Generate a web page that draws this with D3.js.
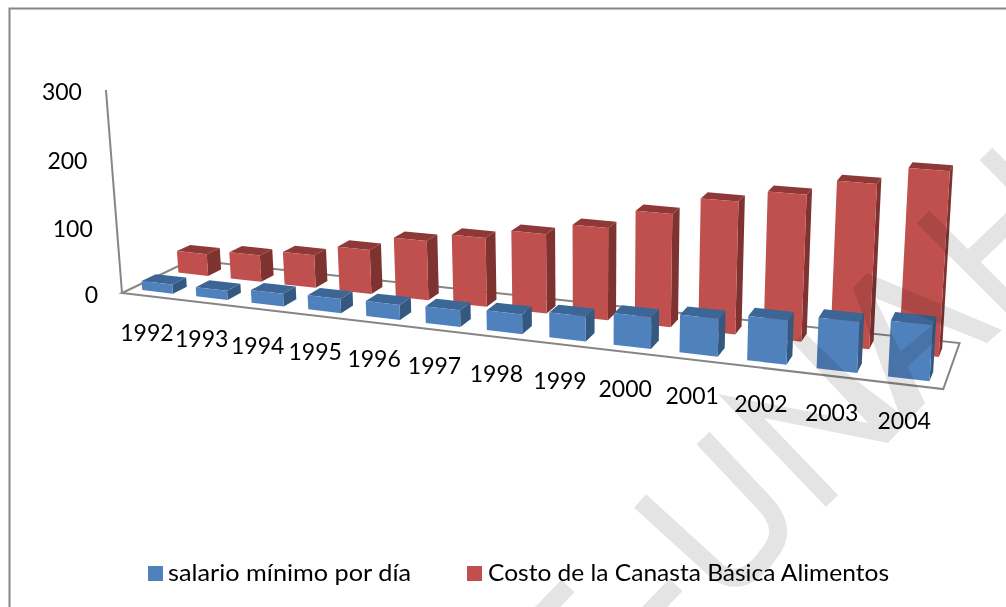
<!DOCTYPE html>
<html>
<head>
<meta charset="utf-8">
<script src="https://cdn.jsdelivr.net/npm/d3@7/dist/d3.min.js"></script>
<style>
html,body{margin:0;padding:0;background:#fff;overflow:hidden}
svg{display:block}
text{font-family:Lato,"Open Sans",sans-serif;fill:#000}
</style>
</head>
<body>
<svg id="c" width="1006" height="607"></svg>
<script>
const years = ["1992","1993","1994","1995","1996","1997","1998","1999","2000","2001","2002","2003","2004"];
const salario = [14,14,19,21,22,24,28,35,44,52,60,68,74];
const canasta = [34,41,50,67,89,102,116,133,161,186,203,225,249];
const yTicks = [0,100,200,300];
const seriesNames = ["salario mínimo por día","Costo de la Canasta Básica Alimentos"];

const svg = d3.select("#c");

// scales into the unit box of the 3D plot
const xBand = d3.scaleBand().domain(years).range([0,1]).paddingInner(0.43).paddingOuter(0.215);
const depth = d3.scaleBand().domain(seriesNames).range([0,1]).paddingInner(0.615).paddingOuter(0.269).align(0.43);
const zScale = d3.scaleLinear().domain([0,300]).range([0,1]);

// perspective camera: origin and the three vanishing points with their weights
const O = [122,293];
const VP = {x:[-4400,-236,-0.1537], y:[1152,-199.6,0.0718], z:[591,6230,-0.03306]};
function proj(x,y,z){
  const w = 1 + VP.x[2]*x + VP.y[2]*y + VP.z[2]*z;
  const a = i => O[i] + VP.x[2]*VP.x[i]*x + VP.y[2]*VP.y[i]*y + VP.z[2]*VP.z[i]*z;
  return [a(0)/w, a(1)/w];
}
const line = d3.line();
const poly = pts => line(pts) + "Z";

// chart frame
svg.append("path").attr("d","M1010,8.5H9.5V611").attr("fill","none").attr("stroke","#868686").attr("stroke-width",2);

// floor and wall axis
const axisCol = "#868686";
svg.append("path").attr("d",poly([proj(0,0,0),proj(1,0,0),proj(1,1,0),proj(0,1,0)]))
  .attr("fill","none").attr("stroke",axisCol).attr("stroke-width",2);
svg.append("path").attr("d",line([proj(0,0,0),proj(0,0,1)]))
  .attr("fill","none").attr("stroke",axisCol).attr("stroke-width",2);

// bars
const palette = [
  {front:"#4F81BD",top:"#3B6695",side:"#34587F"},
  {front:"#C0504D",top:"#8E3937",side:"#7E3331"}
];
function drawSeries(values,name,col){
  const g = svg.append("g");
  const y0 = depth(name), y1 = y0 + depth.bandwidth();
  values.forEach((v,i)=>{
    const x0 = xBand(years[i]), x1 = x0 + xBand.bandwidth(), z = zScale(v);
    g.append("path").attr("d",poly([proj(x1,y0,0),proj(x1,y1,0),proj(x1,y1,z),proj(x1,y0,z)])).attr("fill",col.side);
    g.append("path").attr("d",poly([proj(x0,y0,z),proj(x1,y0,z),proj(x1,y1,z),proj(x0,y1,z)])).attr("fill",col.top);
    g.append("path").attr("d",poly([proj(x0,y0,0),proj(x1,y0,0),proj(x1,y0,z),proj(x0,y0,z)])).attr("fill",col.front);
  });
}
drawSeries(canasta,seriesNames[1],palette[1]);
drawSeries(salario,seriesNames[0],palette[0]);

// value labels
svg.append("g").selectAll("text").data(yTicks).join("text")
  .attr("text-anchor","end").attr("font-size",23)
  .attr("x",d=>proj(0,0,zScale(d))[0]-24)
  .attr("y",d=>proj(0,0,zScale(d))[1]+10)
  .text(d=>d);

// category labels
svg.append("g").selectAll("text").data(years).join("text")
  .attr("text-anchor","middle").attr("font-size",23)
  .attr("x",d=>proj(xBand(d)+xBand.bandwidth()/2,0,0)[0]-2)
  .attr("y",d=>proj(xBand(d)+xBand.bandwidth()/2,0,0)[1]+44.5)
  .text(d=>d);

// legend
const legend = [
  {x:148,tx:168,len:243,col:palette[0].front,name:seriesNames[0]},
  {x:467,tx:488,len:401,col:palette[1].front,name:seriesNames[1]}
];
legend.forEach(l=>{
  svg.append("rect").attr("x",l.x).attr("y",566).attr("width",15).attr("height",15).attr("fill",l.col);
  svg.append("text").attr("x",l.tx).attr("y",581).attr("font-size",23)
    .attr("textLength",l.len).attr("lengthAdjust","spacingAndGlyphs").text(l.name);
});

// watermark
const wm = svg.append("g").style("mix-blend-mode","multiply");
const wmStrokes = [
  "M703,438L766,505Q788,530 770,552Q745,590 718,572L640,501",
  "M568,586L533,622",
  "M676,585L640,622",
  "M923,217L1016,310",
  "M974,256L1016,216",
  "M986,154L1016,184"
];
wmStrokes.forEach(d=>wm.append("path").attr("d",d).attr("fill","none").attr("stroke","#e4e4e4").attr("stroke-width",18));
wm.append("path").attr("fill","#e4e4e4")
  .attr("d","M826,507L718,394L868,423L793,343L804,332L843,370L899,413L853,288L867,273L1002,330L987,343L875,298L925,403L888,443L764,418L838,495Z");
wm.append("path").attr("fill","#e4e4e4")
  .attr("d","M900,352L935,323L933,343L907,367Z");
</script>
</body>
</html>
